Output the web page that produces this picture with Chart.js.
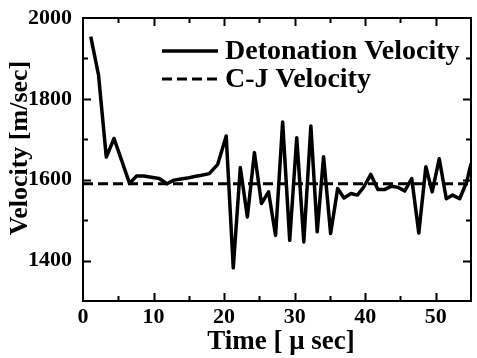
<!DOCTYPE html>
<html>
<head>
<meta charset="utf-8">
<script src="https://cdn.jsdelivr.net/npm/chart.js@4.4.1/dist/chart.umd.min.js"></script>
<style>
html, body { margin: 0; padding: 0; background: #fff; }
</style>
</head>
<body>
<canvas id="myChart" width="477" height="358"></canvas>
<script>
// detonation front velocity measured along the tube
let timeUs = [1.1, 2.2, 3.3, 4.4, 6.6, 7.6, 8.6, 9.7, 10.8, 11.9, 12.9, 13.9, 14.8, 15.8, 16.8, 17.9,
  19.1, 20.3, 21.3, 22.3, 23.3, 24.3, 25.3, 26.3, 27.3, 28.3, 29.3, 30.3, 31.3, 32.3, 33.2, 34.1,
  35.1, 36.1, 37.0, 38.0, 38.9, 39.8, 40.8, 41.8, 42.8, 43.7, 44.7, 45.6, 46.6, 47.6, 48.6, 49.5,
  50.5, 51.5, 52.4, 53.4, 54.4, 55.0];
let velocity = [1954, 1859, 1656, 1702, 1591, 1609, 1609, 1606, 1603, 1590, 1599, 1602, 1604, 1608, 1611, 1615,
  1638, 1708, 1382, 1630, 1508, 1667, 1541, 1570, 1462, 1743, 1450, 1704, 1446, 1733, 1471, 1657,
  1467, 1578, 1555, 1566, 1562, 1582, 1613, 1576, 1576, 1584, 1581, 1572, 1603, 1468, 1632, 1570,
  1652, 1553, 1562, 1553, 1595, 1640];
let cjVelocity = 1590;
let xRange = [0, 55];
let yRange = [1300, 2000];
let xTicks = [0, 10, 20, 30, 40, 50];
let yTicks = [1400, 1600, 1800, 2000];
let seriesLabels = ['Detonation Velocity', 'C-J Velocity'];
let xTitle = 'Time [ \u03bc sec]';
let yTitle = 'Velocity [m/sec]';

const serif = "'Liberation Serif', 'Times New Roman', serif";

// box frame with inward ticks, axis titles and the legend
const frame = {
  id: 'frame',
  afterDatasetsDraw(chart) {
    const { ctx, chartArea: a, scales: { x, y } } = chart;
    ctx.save();
    ctx.strokeStyle = '#000';
    ctx.lineWidth = 2;
    ctx.strokeRect(a.left, a.top, a.right - a.left, a.bottom - a.top);
    ctx.beginPath();
    for (let v = xRange[0] + 5; v < xRange[1]; v += 5) {
      const px = Math.round(x.getPixelForValue(v)) + 0.5;
      const len = v % 10 === 0 ? 8 : 5;
      ctx.moveTo(px, a.bottom); ctx.lineTo(px, a.bottom - len);
      ctx.moveTo(px, a.top); ctx.lineTo(px, a.top + len);
    }
    for (let v = yRange[0] + 100; v < yRange[1]; v += 100) {
      const py = Math.round(y.getPixelForValue(v)) + 0.5;
      const len = v % 200 === 0 ? 8 : 5;
      ctx.moveTo(a.left, py); ctx.lineTo(a.left + len, py);
      ctx.moveTo(a.right, py); ctx.lineTo(a.right - len, py);
    }
    ctx.stroke();

    ctx.fillStyle = '#000';
    ctx.textAlign = 'center';
    ctx.textBaseline = 'middle';
    ctx.font = 'bold 27px ' + serif;
    ctx.fillText(xTitle, 281, 342);
    ctx.save();
    ctx.translate(20, 148);
    ctx.rotate(-Math.PI / 2);
    ctx.font = 'bold 26px ' + serif;
    ctx.fillText(yTitle, 0, 0);
    ctx.restore();

    // legend
    ctx.font = 'bold 28px ' + serif;
    ctx.textAlign = 'left';
    chart.data.datasets.forEach((ds, i) => {
      const ly = 51 + i * 28;
      ctx.beginPath();
      ctx.lineWidth = ds.borderWidth;
      ctx.setLineDash(ds.borderDash || []);
      ctx.moveTo(162, ly);
      ctx.lineTo(218, ly);
      ctx.stroke();
      ctx.setLineDash([]);
      ctx.fillText(ds.label, 225, ly + 1);
    });
    ctx.restore();
  }
};

const tickFont = { family: serif, size: 22, weight: 'bold' };

var ctx = document.getElementById('myChart').getContext('2d');
var chart = new Chart(ctx, {
  type: 'line',
  data: {
    datasets: [{
      label: seriesLabels[0],
      data: timeUs.map((t, i) => ({ x: t, y: velocity[i] })),
      borderColor: '#000',
      borderWidth: 3.5,
      borderJoinStyle: 'round',
      pointRadius: 0,
      tension: 0
    }, {
      label: seriesLabels[1],
      data: [{ x: xRange[0], y: cjVelocity }, { x: xRange[1], y: cjVelocity }],
      borderColor: '#000',
      borderWidth: 3,
      borderDash: [10, 5],
      pointRadius: 0
    }]
  },
  options: {
    responsive: false,
    animation: false,
    layout: { padding: { top: 18, right: 6, left: 0, bottom: 0 } },
    plugins: { legend: { display: false }, tooltip: { enabled: false } },
    scales: {
      x: {
        type: 'linear',
        min: xRange[0],
        max: xRange[1],
        afterBuildTicks: s => { s.ticks = xTicks.map(v => ({ value: v })); },
        afterFit: s => { s.height = 57; },
        grid: { display: false },
        border: { display: false },
        ticks: { font: tickFont, color: '#000', padding: -5, maxRotation: 0, autoSkip: false,
          callback: v => String(v) }
      },
      y: {
        min: yRange[0],
        max: yRange[1],
        afterBuildTicks: s => { s.ticks = yTicks.map(v => ({ value: v })); },
        afterFit: s => { s.width = 83; },
        grid: { display: false },
        border: { display: false },
        ticks: { font: tickFont, color: '#000', padding: 3, callback: v => String(v) }
      }
    }
  },
  plugins: [frame]
});
</script>
</body>
</html>
